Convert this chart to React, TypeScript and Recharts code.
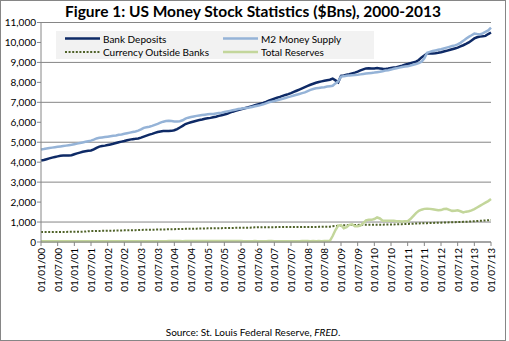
import React from 'react';
import { LineChart, Line, XAxis, YAxis, CartesianGrid, Legend } from 'recharts';

// monthly, Jan 2000 - Jul 2013, $bn
const bankDeposits = [
  4080, 4110, 4150, 4190, 4230, 4260, 4290, 4320, 4330, 4330, 4340, 4350,
  4400, 4440, 4480, 4520, 4550, 4570, 4590, 4640, 4720, 4780, 4810, 4830,
  4860, 4890, 4920, 4960, 5000, 5030, 5060, 5100, 5130, 5155, 5170, 5190,
  5230, 5280, 5330, 5380, 5420, 5470, 5510, 5540, 5560, 5560, 5560, 5570,
  5600, 5660, 5740, 5820, 5910, 5960, 6000, 6040, 6080, 6110, 6140, 6180,
  6200, 6220, 6250, 6280, 6320, 6350, 6390, 6430, 6480, 6530, 6570, 6610,
  6650, 6690, 6730, 6770, 6810, 6850, 6890, 6930, 6970, 7020, 7080, 7130,
  7180, 7230, 7270, 7320, 7370, 7410, 7460, 7520, 7580, 7640, 7700, 7760,
  7820, 7880, 7930, 7980, 8020, 8050, 8080, 8110, 8130, 8190, 8100, 8000,
  8325, 8350, 8380, 8410, 8450, 8490, 8540, 8600, 8650, 8700, 8710, 8690,
  8700, 8720, 8700, 8680, 8670, 8690, 8720, 8740, 8760, 8800, 8840, 8890,
  8920, 8960, 9000, 9040, 9120, 9250, 9350, 9450, 9460, 9450, 9460, 9480,
  9510, 9550, 9580, 9620, 9660, 9700, 9740, 9800, 9860, 9925, 10000, 10100,
  10200, 10260, 10300, 10310, 10330, 10420, 10500,
];

const m2Supply = [
  4640, 4660, 4690, 4710, 4730, 4750, 4770, 4790, 4810, 4830, 4850, 4870,
  4900, 4930, 4960, 4990, 5020, 5050, 5080, 5130, 5190, 5220, 5240, 5260,
  5280, 5300, 5320, 5340, 5370, 5390, 5420, 5450, 5480, 5510, 5540, 5580,
  5640, 5720, 5750, 5780, 5820, 5870, 5920, 5980, 6030, 6060, 6070, 6060,
  6040, 6040, 6050, 6100, 6180, 6230, 6260, 6290, 6320, 6340, 6360, 6380,
  6400, 6410, 6420, 6440, 6460, 6480, 6510, 6540, 6570, 6600, 6630, 6660,
  6680, 6700, 6720, 6740, 6770, 6800, 6830, 6860, 6900, 6950, 7000, 7035,
  7060, 7100, 7140, 7180, 7220, 7260, 7300, 7340, 7380, 7420, 7460, 7500,
  7560, 7620, 7670, 7700, 7720, 7740, 7760, 7790, 7810, 7830, 7950, 8050,
  8290, 8310, 8330, 8350, 8360, 8370, 8380, 8400, 8420, 8440, 8460, 8475,
  8490, 8510, 8530, 8560, 8590, 8610, 8640, 8680, 8710, 8740, 8770, 8790,
  8810, 8840, 8880, 8920, 8960, 9035, 9200, 9480, 9530, 9570, 9600, 9630,
  9660, 9700, 9740, 9780, 9820, 9855, 9900, 9980, 10080, 10190, 10280, 10360,
  10445, 10420, 10400, 10460, 10530, 10600, 10740,
];

const currency = [
  500, 500, 500, 500, 500, 505, 505, 505, 505, 505, 510, 510,
  510, 515, 515, 520, 520, 545, 545, 548, 550, 555, 558, 560,
  565, 568, 570, 575, 578, 580, 583, 585, 588, 590, 595, 600,
  605, 608, 610, 615, 618, 620, 625, 628, 630, 633, 635, 640,
  645, 648, 650, 655, 658, 660, 665, 668, 670, 672, 675, 680,
  683, 685, 688, 690, 692, 695, 698, 700, 702, 705, 708, 710,
  712, 715, 718, 720, 722, 735, 738, 740, 742, 742, 744, 745,
  745, 746, 746, 747, 748, 748, 749, 750, 750, 751, 752, 753,
  754, 755, 756, 757, 758, 760, 762, 765, 770, 790, 800, 810,
  830, 840, 845, 850, 852, 855, 858, 860, 862, 862, 863, 865,
  866, 866, 868, 870, 872, 875, 878, 880, 885, 890, 895, 900,
  905, 910, 918, 925, 930, 935, 940, 945, 950, 955, 960, 965,
  970, 975, 980, 985, 990, 995, 1000, 1005, 1010, 1015, 1020, 1030,
  1040, 1050, 1060, 1070, 1080, 1090, 1100,
];

const totalReserves = [
  41, 40, 40, 39, 40, 41, 40, 39, 40, 40, 41, 42,
  41, 40, 40, 39, 40, 41, 40, 41, 42, 41, 41, 42,
  41, 40, 40, 39, 40, 41, 40, 39, 40, 40, 41, 42,
  43, 42, 42, 41, 42, 43, 42, 42, 43, 43, 44, 44,
  45, 44, 44, 43, 44, 45, 44, 44, 45, 45, 46, 46,
  46, 45, 45, 44, 45, 46, 45, 45, 45, 44, 45, 45,
  44, 43, 43, 42, 43, 44, 43, 43, 43, 43, 44, 44,
  43, 42, 42, 42, 43, 43, 43, 43, 43, 43, 44, 44,
  44, 43, 45, 43, 44, 43, 44, 45, 60, 300, 600, 820,
  850, 690, 740, 860, 890, 790, 790, 820, 950, 1080, 1120, 1110,
  1150, 1230, 1180, 1065, 1070, 1060, 1065, 1065, 1040, 1035, 1030, 1040,
  1040, 1150, 1300, 1450, 1560, 1620, 1660, 1670, 1660, 1640, 1620, 1590,
  1600, 1650, 1660, 1610, 1560, 1570, 1590, 1540, 1480, 1520, 1540, 1585,
  1650, 1730, 1810, 1890, 1970, 2050, 2150,
];

const yTicks = [0, 1000, 2000, 3000, 4000, 5000, 6000, 7000, 8000, 9000, 10000, 11000];
const years = ['00', '01', '02', '03', '04', '05', '06', '07', '08', '09', '10', '11', '12', '13'];
const months = ['01', '02', '03', '04', '05', '06', '07', '08', '09', '10', '11', '12'];

const dates: string[] = [];
years.forEach((yy) => months.forEach((mm) => dates.push(`01/${mm}/${yy}`)));

const data = bankDeposits.map((v, i) => ({
  date: dates[i],
  bank: v,
  m2: m2Supply[i],
  currency: currency[i],
  reserves: totalReserves[i],
}));

const FONT = 'Lato, "Open Sans", sans-serif';

const series = [
  { key: 'bank', name: 'Bank Deposits', color: '#0e2a66', dash: undefined, width: 2.5 },
  { key: 'm2', name: 'M2 Money Supply', color: '#95b3d7', dash: undefined, width: 2.5 },
  { key: 'currency', name: 'Currency Outside Banks', color: '#4f6228', dash: '2 1.6', width: 2 },
  { key: 'reserves', name: 'Total Reserves', color: '#c3d69b', dash: undefined, width: 2.5 },
];

const XTick = ({ x, y, payload }: any) => (
  <text
    transform={`translate(${x},${y}) rotate(-90)`}
    textAnchor="end"
    dominantBaseline="central"
    fontSize={10}
    fontFamily={FONT}
    fill="#000"
  >
    {payload.value}
  </text>
);

const renderLegend = () => {
  const cells = [
    { s: series[0], x: 0, y: 0 },
    { s: series[1], x: 158, y: 0 },
    { s: series[2], x: 0, y: 13.5 },
    { s: series[3], x: 158, y: 13.5 },
  ];
  return (
    <svg width={318} height={28} style={{ display: 'block', background: '#f2f2f2' }}>
      {cells.map(({ s, x, y }) => (
        <g key={s.key}>
          <line
            x1={x + 9}
            x2={x + 44}
            y1={y + 7.5}
            y2={y + 7.5}
            stroke={s.color}
            strokeWidth={s.width}
            strokeDasharray={s.dash}
          />
          <text x={x + 47} y={y + 7.5} dominantBaseline="central" fontSize={10} fontFamily={FONT} fill="#000">
            {s.name}
          </text>
        </g>
      ))}
    </svg>
  );
};

export default function App() {
  return (
    <div
      style={{
        position: 'absolute',
        left: 0,
        top: 0,
        width: 509,
        height: 341,
        background: '#fff',
        fontFamily: FONT,
      }}
    >
      <div
        style={{
          position: 'absolute',
          left: 0,
          top: 0,
          width: 504,
          height: 339,
          border: '1px solid #868686',
        }}
      />
      <div
        style={{
          position: 'absolute',
          left: 0,
          width: 506,
          top: 2,
          textAlign: 'center',
          fontWeight: 700,
          fontSize: 15.5,
          color: '#000',
        }}
      >
        Figure 1: US Money Stock Statistics ($Bns), 2000-2013
      </div>
      <LineChart
        width={509}
        height={341}
        data={data}
        margin={{ top: 22.5, right: 18, bottom: 0, left: 0 }}
        style={{ position: 'absolute', left: 0, top: 0 }}
      >
        <CartesianGrid vertical={false} stroke="#868686" strokeWidth={1} />
        <XAxis
          dataKey="date"
          interval={5}
          height={71}
          tickSize={4}
          tickMargin={2}
          stroke="#868686"
          tick={<XTick />}
        />
        <YAxis
          domain={[0, 11000]}
          ticks={yTicks}
          width={41}
          tickSize={4}
          tickMargin={1}
          stroke="#868686"
          tick={{ fontSize: 10, fill: '#000', fontFamily: FONT }}
          tickFormatter={(v: number) => v.toLocaleString('en-US')}
        />
        <Legend content={renderLegend} wrapperStyle={{ left: 56, top: 31, width: 318, height: 28 }} />
        {series.map((s) => (
          <Line
            key={s.key}
            type="linear"
            dataKey={s.key}
            name={s.name}
            stroke={s.color}
            strokeWidth={s.width}
            strokeDasharray={s.dash}
            dot={false}
            isAnimationActive={false}
          />
        ))}
      </LineChart>
      <div
        style={{
          position: 'absolute',
          left: 0,
          width: 506,
          top: 326,
          textAlign: 'center',
          fontSize: 10,
          color: '#000',
        }}
      >
        Source: St. Louis Federal Reserve, <i>FRED</i>.
      </div>
    </div>
  );
}
